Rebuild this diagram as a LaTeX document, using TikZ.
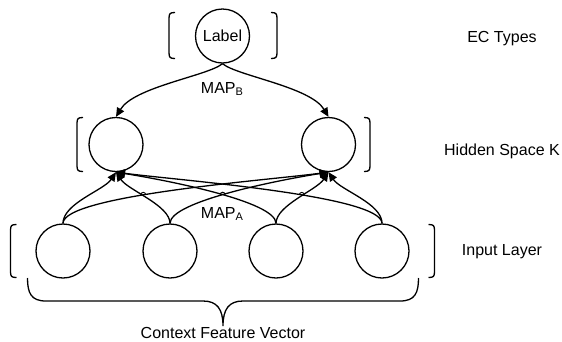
\documentclass[tikz,border=0pt]{standalone}
\usepackage{fontspec}
\setmainfont{Liberation Sans}
\usetikzlibrary{arrows.meta,intersections}
\begin{document}
\begin{tikzpicture}[x=1pt,y=-1pt,line width=1.3pt,
  font=\fontsize{16}{19}\selectfont,
  unit/.style={circle,draw,minimum size=54pt,inner sep=0pt},
  conn/.style={-{Triangle[length=9pt,width=8pt]}},
  caption/.style={anchor=base}]
\useasboundingbox (0,0) rectangle (562,341);

% square brackets with rounded ends: left opens to the right, right opens to the left
\newcommand{\lbrk}[3]{\draw (#1+6,#2) .. controls (#1+1,#2) and (#1,#2+1) .. (#1,#2+6) -- (#1,#3-6) .. controls (#1,#3-1) and (#1+1,#3) .. (#1+6,#3);}
\newcommand{\rbrk}[3]{\draw (#1-6,#2) .. controls (#1-1,#2) and (#1,#2+1) .. (#1,#2+6) -- (#1,#3-6) .. controls (#1,#3-1) and (#1-1,#3) .. (#1-6,#3);}

% layers
\node[unit] (lab) at (222.5,36) {Label};
\node[unit] (h1) at (116,144.5) {};
\node[unit] (h2) at (328.5,144.5) {};
\node[unit] (i1) at (63,251) {};
\node[unit] (i2) at (170,251) {};
\node[unit] (i3) at (276,251) {};
\node[unit] (i4) at (382,251) {};

\lbrk{169}{12.5}{58.5}
\rbrk{277}{12.5}{58.5}
\lbrk{77}{117.5}{171.5}
\rbrk{370}{117.5}{171.5}
\lbrk{10.5}{224.5}{277.5}
\rbrk{434.5}{224.5}{277.5}

% output mapping
\draw[conn] (lab.south) .. controls +(-14,12) and +(18,-30) .. (h1.north);
\draw[conn] (lab.south) .. controls +(14,12) and +(-18,-30) .. (h2.north);
\node (mapb) at (222,89) {MAP\raisebox{-0.35ex}{\fontsize{11}{11}\selectfont B}};

% input mapping
\draw[conn,name path=a11] (i1.north) .. controls +(0,-20) and +(-12,18) .. (h1.south);
\draw[conn,name path=a21] (i2.north) .. controls +(0,-18) and +(12,18) .. (h1.south);
\draw[conn,name path=a31] (i3.north) .. controls +(0,-22) and +(50,8) .. (h1.south);
\draw[conn,name path=a41] (i4.north) .. controls +(0,-28) and +(60,8) .. (h1.south);
\draw[conn,name path=a12] (i1.north) .. controls +(0,-28) and +(-60,8) .. (h2.south);
\draw[conn,name path=a22] (i2.north) .. controls +(0,-22) and +(-50,8) .. (h2.south);
\draw[conn,name path=a32] (i3.north) .. controls +(0,-18) and +(-12,18) .. (h2.south);
\draw[conn,name path=a42] (i4.north) .. controls +(0,-20) and +(12,18) .. (h2.south);

% line jumps at the crossings
\path[name intersections={of=a12 and a21,by=j1}];
\path[name intersections={of=a22 and a31,by=j2}];
\path[name intersections={of=a41 and a32,by=j3}];
\foreach \j in {j1,j2,j3}
  \draw[line width=0.9pt] (\j) ++(-2.5,0) arc[start angle=180,end angle=360,radius=2.5];

\node (mapa) at (222,214) {MAP\raisebox{-0.35ex}{\fontsize{11}{11}\selectfont A}};

% brace under the input layer
\draw (27.5,278) .. controls (27.5,293) and (31,301) .. (46,301) -- (203,301)
  .. controls (217,301) and (223,309) .. (223,326)
  .. controls (223,309) and (229,301) .. (243,301) -- (400,301)
  .. controls (415,301) and (418.5,293) .. (418.5,278);
\node[caption] (ctx) at (223,338) {Context Feature Vector};

% layer captions
\node[caption] (t1) at (502,42) {EC Types};
\node[caption] (t2) at (502,155) {Hidden Space K};
\node[caption] (t3) at (502,255) {Input Layer};
\end{tikzpicture}
\end{document}
